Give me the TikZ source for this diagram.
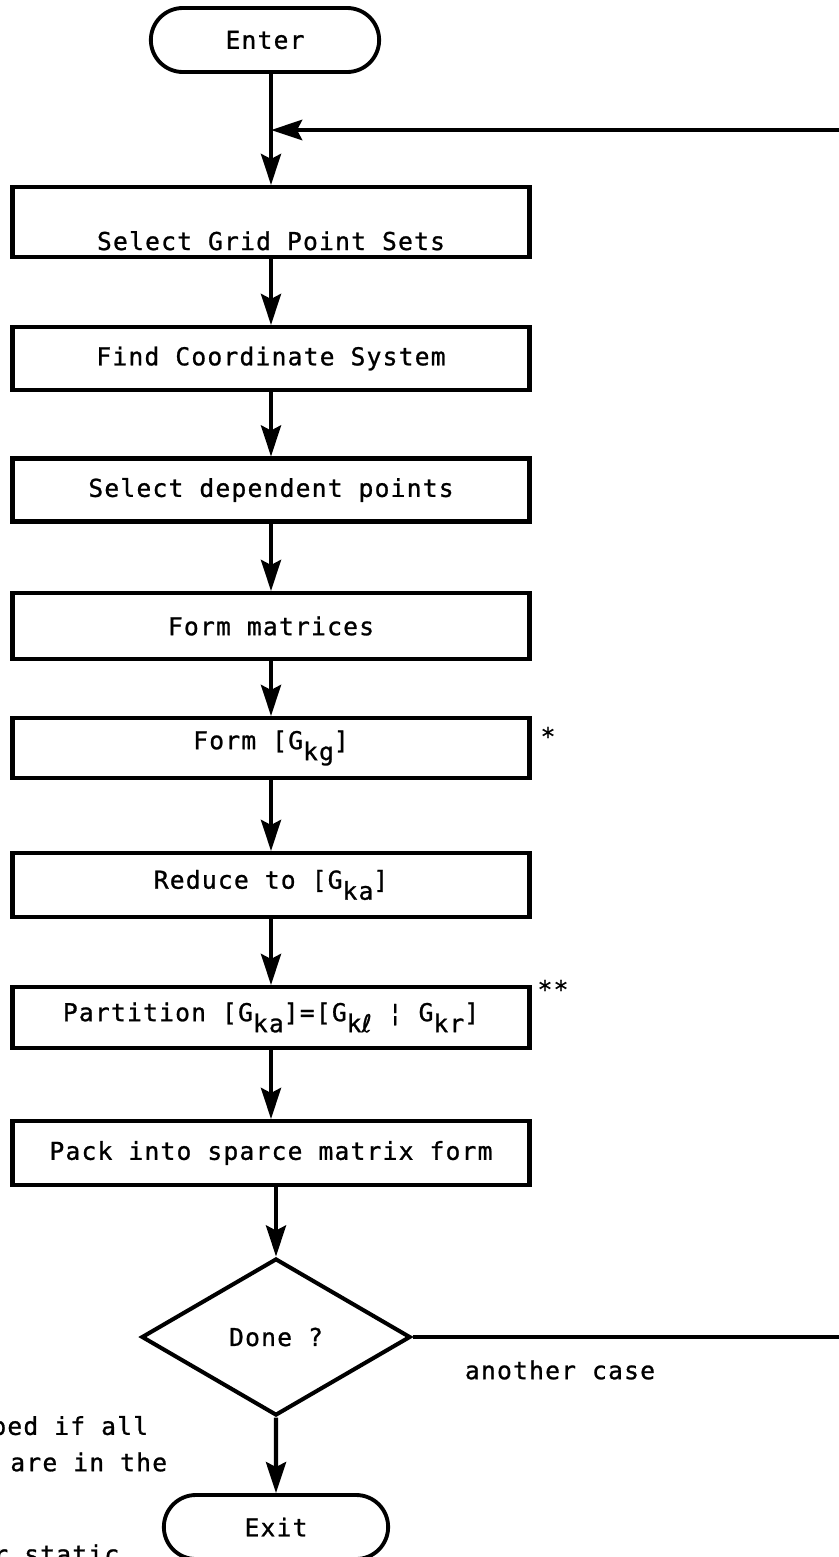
\documentclass[tikz,border=0pt]{standalone}
\usepackage{fontspec}
\setmainfont{DejaVu Sans Mono}[LetterSpace=5,FakeBold=1]
\newfontfamily\ellfont{DejaVu Sans}[FakeBold=1]
\usepackage{tikz}
\usetikzlibrary{arrows.meta,shapes.geometric,shapes.misc}
\tikzstyle{term}=[rounded rectangle,draw,line width=2.2pt,minimum width=4.8cm,minimum height=1.28cm]
\tikzstyle{proc}=[rectangle,draw,line width=2.3pt,minimum width=10.34cm,inner sep=0pt]
\tikzstyle{test}=[diamond,draw,line width=2.3pt,minimum width=5.38cm,minimum height=3.14cm,inner sep=0pt]
\tikzstyle{flow}=[line width=2.5pt,-{Stealth[length=0.62cm,width=0.4cm,inset=0.1cm]}]
\tikzstyle{note}=[inner sep=0pt]
\newcommand{\lowsub}[1]{\raisebox{-0.45em}{#1}}

\begin{document}
\begin{tikzpicture}[font=\fontsize{14}{16}\selectfont]
        \useasboundingbox (0,0) rectangle (16.76,-31.14);
        \node at (5.30,-0.80) [term] (enter) {Enter};
        \coordinate (join) at (5.42,-2.60);
        \coordinate (edge) at (18,-2.60);
        \node at (5.42,-4.44) [proc,minimum height=1.40cm] (grid) {\raisebox{-0.56cm}[0pt][0pt]{Select Grid Point Sets}};
        \node at (5.42,-7.17) [proc,minimum height=1.26cm] (coord) {Find Coordinate System};
        \node at (5.42,-9.80) [proc,minimum height=1.26cm] (dep) {Select dependent points};
        \node at (5.42,-12.52) [proc,minimum height=1.32cm] (mats) {Form matrices};
        \node at (5.42,-14.96) [proc,minimum height=1.20cm] (gkg) {Form [G\lowsub{kg}]};
        \node at (5.42,-17.70) [proc,minimum height=1.28cm] (gka) {Reduce to [G\lowsub{ka}]};
        \node at (5.42,-20.35) [proc,minimum height=1.22cm] (part) {Partition [G\lowsub{ka}]=[G\lowsub{k{\ellfont ℓ}} ¦ G\lowsub{kr}]};
        \node at (5.42,-23.06) [proc,minimum height=1.28cm] (pack) {Pack into sparce matrix form};
        \node at (5.52,-26.74) [test] (done) {Done ?};
        \node at (5.52,-30.54) [term,minimum width=4.72cm] (exit) {Exit};
        % footnote marks and side texts
        \node at (10.96,-14.72) [note] (star) {*};
        \node at (11.06,-19.78) [note] (stars) {**};
        \node at (11.20,-27.40) [note] (again) {another case};
        \node at (-0.18,-28.56) [note,anchor=west] (skipnote) {ped if all};
        \node at (0.20,-29.24) [note,anchor=west] (samenote) {are in the};
        \node at (-0.14,-31.26) [note,anchor=base west] (staticnote) {r static};
        % main flow
        \draw [flow] (enter.south -| grid.north) to (grid.north);
        \draw [flow] (grid) to (coord);
        \draw [flow] (coord) to (dep);
        \draw [flow] (dep) to (mats);
        \draw [flow] (mats) to (gkg);
        \draw [flow] (gkg) to (gka);
        \draw [flow] (gka) to (part);
        \draw [flow] (part) to (pack);
        \draw [flow] (pack.south -| done.north) to (done.north);
        \draw [flow] (done) to (exit);
        \draw [flow,line width=2.8pt] (done.east) -| (edge) -- (join);
      \end{tikzpicture}
\end{document}
